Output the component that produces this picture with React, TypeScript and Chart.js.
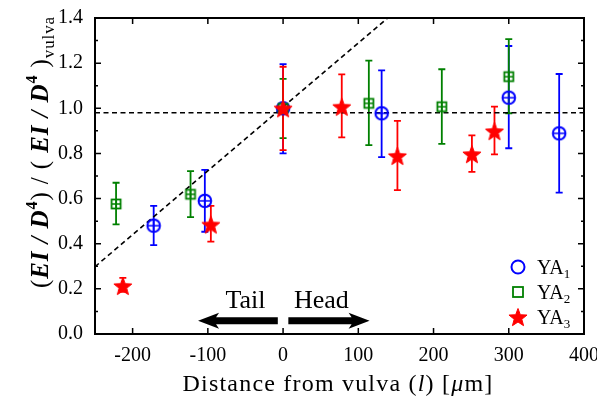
import React, { useEffect, useRef } from 'react';
import { Chart, registerables } from 'chart.js';

Chart.register(...registerables);

// ---------- data ----------
const ya1X = [-172, -104, 0, 131, 300, 367];
const ya1Y = [0.48, 0.59, 1.0, 0.978, 1.047, 0.889];
const ya1Lo = [0.394, 0.453, 0.8, 0.784, 0.823, 0.626];
const ya1Hi = [0.568, 0.727, 1.196, 1.168, 1.276, 1.152];

const ya2X = [-222, -123, 0, 114, 211, 300];
const ya2Y = [0.576, 0.619, 1.0, 1.022, 1.007, 1.14];
const ya2Lo = [0.486, 0.518, 0.868, 0.837, 0.842, 0.978];
const ya2Hi = [0.67, 0.722, 1.13, 1.211, 1.173, 1.306];

const ya3X = [-213, -96, 0, 78, 152, 251, 281];
const ya3Y = [0.213, 0.485, 1.0, 1.007, 0.789, 0.797, 0.899];
const ya3Lo = [0.187, 0.409, 0.815, 0.871, 0.637, 0.718, 0.796];
const ya3Hi = [0.249, 0.568, 1.184, 1.15, 0.944, 0.88, 1.007];

const fitLineX = [-250, 139];
const fitLineY = [0.298, 1.4];
const refLineX = [-250, 400];
const refLineY = [0.98, 0.98];

const xTickValues = [-200, -100, 0, 100, 200, 300, 400];
const yTickValues = [0, 0.2, 0.4, 0.6, 0.8, 1.0, 1.2, 1.4];
const yMinorValues = [0.1, 0.3, 0.5, 0.7, 0.9, 1.1, 1.3];

const seriesNames = ['YA', 'YA', 'YA'];
const seriesSubs = ['1', '2', '3'];

const arrowLabels = ['Tail', 'Head'];
const arrowLabelX = [-50, 51];
const arrowLabelY = 0.115;
const arrowFromX = [-7, 7];
const arrowToX = [-113, 115];
const arrowY = 0.059;

const xTitleParts = ['Distance from vulva (', 'l', ') [', 'μ', 'm]'];

// ---------- styles ----------
const FONT = '"Liberation Serif", "Times New Roman", serif';
const BLUE = '#0000ff';
const GREEN = '#008000';
const RED = '#ff0000';

function pts(xs: number[], ys: number[]) {
  return xs.map((x, i) => ({ x, y: ys[i] }));
}

function circleMarker(color: string, plus: boolean, r = 6.3) {
  const s = 18;
  const c = document.createElement('canvas');
  c.width = s; c.height = s;
  const g = c.getContext('2d')!;
  g.strokeStyle = color; g.lineWidth = 2;
  g.beginPath(); g.arc(s / 2, s / 2, r, 0, Math.PI * 2); g.stroke();
  if (plus) {
    g.lineWidth = 1.4;
    g.beginPath();
    g.moveTo(s / 2 - r, s / 2); g.lineTo(s / 2 + r, s / 2);
    g.moveTo(s / 2, s / 2 - r); g.lineTo(s / 2, s / 2 + r);
    g.stroke();
  }
  return c;
}

function squareMarker(color: string, plus: boolean, h = 4.5) {
  const s = 14;
  const c = document.createElement('canvas');
  c.width = s; c.height = s;
  const g = c.getContext('2d')!;
  g.strokeStyle = color; g.lineWidth = 1.8;
  g.strokeRect(s / 2 - h, s / 2 - h, 2 * h, 2 * h);
  if (plus) {
    g.lineWidth = 1.3;
    g.beginPath();
    g.moveTo(s / 2 - h, s / 2); g.lineTo(s / 2 + h, s / 2);
    g.moveTo(s / 2, s / 2 - h); g.lineTo(s / 2, s / 2 + h);
    g.stroke();
  }
  return c;
}

function starPath(g: CanvasRenderingContext2D, cx: number, cy: number, ro: number, ri: number) {
  g.beginPath();
  for (let i = 0; i < 10; i++) {
    const r = i % 2 === 0 ? ro : ri;
    const a = -Math.PI / 2 + (i * Math.PI) / 5;
    const px = cx + r * Math.cos(a);
    const py = cy + r * Math.sin(a);
    if (i === 0) g.moveTo(px, py); else g.lineTo(px, py);
  }
  g.closePath();
}

function starMarker(color: string, ro = 9.5, ri = 4) {
  const s = 22;
  const c = document.createElement('canvas');
  c.width = s; c.height = s;
  const g = c.getContext('2d')!;
  starPath(g, s / 2, s / 2 + 1, ro, ri);
  g.fillStyle = color; g.fill();
  g.strokeStyle = color; g.lineWidth = 1; g.stroke();
  return c;
}

type Seg = { t: string; font: string; dy?: number };

function drawRich(g: CanvasRenderingContext2D, segs: Seg[], x: number, y: number, align: 'center' | 'left' = 'center', spacing = '0px') {
  (g as any).letterSpacing = spacing;
  const widths = segs.map((s) => { g.font = s.font; return g.measureText(s.t).width; });
  const total = widths.reduce((a, b) => a + b, 0);
  let cx = align === 'center' ? x - total / 2 : x;
  g.textAlign = 'left';
  g.textBaseline = 'alphabetic';
  segs.forEach((s, i) => {
    g.font = s.font;
    g.fillText(s.t, cx, y + (s.dy || 0));
    cx += widths[i];
  });
  (g as any).letterSpacing = '0px';
}

function drawArrow(g: CanvasRenderingContext2D, x0: number, x1: number, y: number) {
  const dir = Math.sign(x1 - x0);
  const headLen = 18;
  const headHalf = 8;
  const shaft = 3.5;
  g.beginPath();
  g.moveTo(x0, y - shaft);
  g.lineTo(x1 - dir * headLen, y - shaft);
  g.lineTo(x1 - dir * (headLen + 3), y - headHalf);
  g.lineTo(x1, y);
  g.lineTo(x1 - dir * (headLen + 3), y + headHalf);
  g.lineTo(x1 - dir * headLen, y + shaft);
  g.lineTo(x0, y + shaft);
  g.closePath();
  g.fill();
}

export default function App() {
  const ref = useRef<HTMLCanvasElement | null>(null);

  useEffect(() => {
    const canvas = ref.current;
    if (!canvas) return;

    const errSets = [
      { xs: ya1X, lo: ya1Lo, hi: ya1Hi, color: BLUE },
      { xs: ya2X, lo: ya2Lo, hi: ya2Hi, color: GREEN },
      { xs: ya3X, lo: ya3Lo, hi: ya3Hi, color: RED },
    ];

    const legendMarkers = [circleMarker(BLUE, false, 6.5), squareMarker(GREEN, false, 5), starMarker(RED, 9.5, 4)];

    const decor = {
      id: 'decor',
      beforeDatasetsDraw(chart: any) {
        const g: CanvasRenderingContext2D = chart.ctx;
        const xs = chart.scales.x;
        const ys = chart.scales.y;
        g.save();
        g.lineWidth = 1.8;
        errSets.forEach((s) => {
          g.strokeStyle = s.color;
          s.xs.forEach((xv, i) => {
            const px = xs.getPixelForValue(xv);
            const p0 = ys.getPixelForValue(s.lo[i]);
            const p1 = ys.getPixelForValue(s.hi[i]);
            g.beginPath();
            g.moveTo(px, p0); g.lineTo(px, p1);
            g.moveTo(px - 3.5, p0); g.lineTo(px + 3.5, p0);
            g.moveTo(px - 3.5, p1); g.lineTo(px + 3.5, p1);
            g.stroke();
          });
        });
        g.restore();
      },
      afterDraw(chart: any) {
        const g: CanvasRenderingContext2D = chart.ctx;
        const a = chart.chartArea;
        const xs = chart.scales.x;
        const ys = chart.scales.y;
        g.save();
        // frame
        g.strokeStyle = '#000';
        g.lineWidth = 2;
        g.strokeRect(a.left, a.top, a.right - a.left, a.bottom - a.top);
        // inward ticks
        g.lineWidth = 1.5;
        g.beginPath();
        xTickValues.forEach((v) => {
          const px = xs.getPixelForValue(v);
          if (px <= a.left + 1 || px >= a.right - 1) return;
          g.moveTo(px, a.bottom); g.lineTo(px, a.bottom - 6);
          g.moveTo(px, a.top); g.lineTo(px, a.top + 6);
        });
        yTickValues.forEach((v) => {
          const py = ys.getPixelForValue(v);
          if (py <= a.top + 1 || py >= a.bottom - 1) return;
          g.moveTo(a.left, py); g.lineTo(a.left + 6, py);
          g.moveTo(a.right, py); g.lineTo(a.right - 6, py);
        });
        yMinorValues.forEach((v) => {
          const py = ys.getPixelForValue(v);
          g.moveTo(a.left, py); g.lineTo(a.left + 3, py);
          g.moveTo(a.right, py); g.lineTo(a.right - 3, py);
        });
        g.stroke();

        // arrows + labels
        g.fillStyle = '#000';
        const ay = ys.getPixelForValue(arrowY);
        arrowFromX.forEach((fx, i) => {
          drawArrow(g, xs.getPixelForValue(fx), xs.getPixelForValue(arrowToX[i]), ay);
        });
        g.font = `26px ${FONT}`;
        g.textAlign = 'center';
        g.textBaseline = 'alphabetic';
        arrowLabels.forEach((t, i) => {
          g.fillText(t, xs.getPixelForValue(arrowLabelX[i]), ys.getPixelForValue(arrowLabelY));
        });

        // legend
        const lx = 518;
        const ly0 = 267;
        seriesNames.forEach((n, i) => {
          const cy = ly0 + i * 25;
          const m = legendMarkers[i];
          g.drawImage(m, lx - m.width / 2, cy - m.height / 2);
          g.fillStyle = '#000';
          drawRich(g, [
            { t: n, font: `20px ${FONT}` },
            { t: seriesSubs[i], font: `13px ${FONT}`, dy: 4 },
          ], 537, cy + 7, 'left');
        });

        // x title
        const xf = `24px ${FONT}`;
        const xfi = `italic 24px ${FONT}`;
        drawRich(g, [
          { t: xTitleParts[0], font: xf },
          { t: xTitleParts[1], font: xfi },
          { t: xTitleParts[2], font: xf },
          { t: xTitleParts[3], font: xfi },
          { t: xTitleParts[4], font: xf },
        ], 338, 391, 'center', '1.2px');

        // y title (rotated)
        const r = `25px ${FONT}`;
        const bi = `italic bold 25px ${FONT}`;
        const sup = `bold 16px ${FONT}`;
        const sub = `17px ${FONT}`;
        g.save();
        g.translate(48, 152);
        g.rotate(-Math.PI / 2);
        drawRich(g, [
          { t: '(', font: r },
          { t: 'EI', font: bi },
          { t: ' / ', font: bi },
          { t: 'D', font: bi },
          { t: '4', font: sup, dy: -11 },
          { t: ') / ( ', font: r },
          { t: 'EI', font: bi },
          { t: ' / ', font: bi },
          { t: 'D', font: bi },
          { t: '4', font: sup, dy: -11 },
          { t: ' )', font: r },
          { t: 'vulva', font: sub, dy: 6 },
        ], 0, 0, 'center', '0.9px');
        g.restore();

        g.restore();
      },
    };

    const chart = new Chart(canvas, {
      type: 'scatter',
      data: {
        datasets: [
          {
            label: 'fit', data: pts(fitLineX, fitLineY), showLine: true, borderColor: '#000',
            borderWidth: 1.6, borderDash: [5, 3.5], pointRadius: 0, order: 10,
          } as any,
          {
            label: 'ref', data: pts(refLineX, refLineY), showLine: true, borderColor: '#000',
            borderWidth: 1.6, borderDash: [5, 3.5], pointRadius: 0, order: 9,
          } as any,
          {
            label: 'YA1', data: pts(ya1X, ya1Y), pointStyle: circleMarker(BLUE, true),
            borderColor: BLUE, backgroundColor: BLUE, order: 3,
          } as any,
          {
            label: 'YA2', data: pts(ya2X, ya2Y), pointStyle: squareMarker(GREEN, true),
            borderColor: GREEN, backgroundColor: GREEN, order: 2,
          } as any,
          {
            label: 'YA3', data: pts(ya3X, ya3Y), pointStyle: starMarker(RED),
            borderColor: RED, backgroundColor: RED, order: 1,
          } as any,
        ],
      },
      options: {
        animation: false,
        responsive: false,
        layout: { padding: { top: 18, right: 13, left: 0, bottom: 0 }, autoPadding: false },
        plugins: { legend: { display: false }, tooltip: { enabled: false } },
        scales: {
          x: {
            type: 'linear', min: -250, max: 400,
            grid: { display: false, drawTicks: false },
            border: { display: false },
            ticks: { font: { family: FONT, size: 20 }, color: '#000', padding: 10 },
            afterBuildTicks: (s: any) => { s.ticks = xTickValues.map((v) => ({ value: v })); },
            afterFit: (s: any) => { s.height = 68; s.paddingLeft = 0; s.paddingRight = 0; },
          },
          y: {
            type: 'linear', min: 0, max: 1.4,
            grid: { display: false, drawTicks: false },
            border: { display: false },
            ticks: {
              font: { family: FONT, size: 20 }, color: '#000', padding: 12,
              callback: (v: any) => Number(v).toFixed(1),
            },
            afterBuildTicks: (s: any) => { s.ticks = yTickValues.map((v) => ({ value: v })); },
            afterFit: (s: any) => { s.width = 95; s.paddingTop = 0; s.paddingBottom = 0; },
          },
        },
      } as any,
      plugins: [decor],
    });

    return () => chart.destroy();
  }, []);

  return (
    <div style={{ position: 'fixed', left: 0, top: 0, width: 597, height: 402, background: '#fff' }}>
      <canvas ref={ref} width={597} height={402} style={{ display: 'block' }} />
    </div>
  );
}
